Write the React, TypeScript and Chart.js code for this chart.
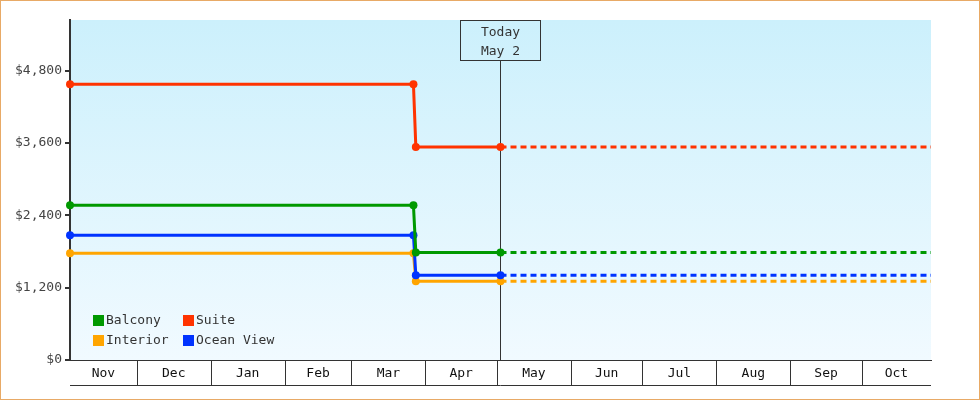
import React, { useEffect, useRef } from 'react';
import { Chart, registerables } from 'chart.js';

Chart.register(...registerables);

// cabin categories, in legend order (two columns)
const categories = ['Balcony', 'Suite', 'Interior', 'Ocean View'];
const categoryColors = ['#009900', '#ff3300', '#ffa500', '#0033ff'];
// drawing order: lower = on top
const categoryOrder = [0, 1, 3, 2];

// price history dates (last one is end of range, no marker)
const priceDates = ['2024-11-03', '2025-03-27', '2025-03-28', '2025-05-02T12:00', '2025-10-30'];
const balconyPrices = [2565, 2565, 1785, 1785, 1785];
const suitePrices = [4575, 4575, 3535, 3535, 3535];
const interiorPrices = [1770, 1770, 1305, 1305, 1305];
const oceanViewPrices = [2070, 2070, 1405, 1405, 1405];
const markerRadii = [4, 4, 4, 4, 0];

const yTicks = [0, 1200, 2400, 3600, 4800];
const yMax = 5640;

const monthLabels = ['Nov', 'Dec', 'Jan', 'Feb', 'Mar', 'Apr', 'May', 'Jun', 'Jul', 'Aug', 'Sep', 'Oct'];
const firstMonth = { year: 2024, month: 10 }; // Nov 2024 (0-based month)
const xStart = '2024-11-03';
const xEnd = '2025-10-30';
const todayDate = '2025-05-02T12:00';
const todayLabel = ['Today', 'May 2'];

const FONT = '"DejaVu Sans Mono", monospace';
const INK = '#333333';
const DAY = 86400000;

const dayOf = (s: string) => Date.parse(s.length === 10 ? s + 'T00:00:00Z' : s + ':00Z') / DAY;

// month boundaries in day units
const monthBounds: number[] = [];
for (let i = 0; i <= monthLabels.length; i++) {
  monthBounds.push(Date.UTC(firstMonth.year, firstMonth.month + i, 1) / DAY);
}

const backgroundPlugin = {
  id: 'plotBackground',
  beforeDraw(chart: any) {
    const { ctx, chartArea } = chart;
    const g = ctx.createLinearGradient(0, chartArea.top, 0, chartArea.bottom);
    g.addColorStop(0, '#ccf0fc');
    g.addColorStop(1, '#f1faff');
    ctx.save();
    ctx.fillStyle = g;
    ctx.fillRect(chartArea.left, chartArea.top, chartArea.right - chartArea.left, chartArea.bottom - chartArea.top);
    ctx.restore();
  },
};

const todayPlugin = {
  id: 'todayMarker',
  beforeDatasetsDraw(chart: any) {
    const { ctx, chartArea, scales } = chart;
    const x = Math.round(scales.x.getPixelForValue(dayOf(todayDate))) - 0.5;
    const boxW = 80;
    const boxH = 40;
    const top = chartArea.top + 0.5;
    ctx.save();
    ctx.strokeStyle = INK;
    ctx.lineWidth = 1;
    ctx.beginPath();
    ctx.moveTo(x, top + boxH);
    ctx.lineTo(x, chartArea.bottom);
    ctx.stroke();
    ctx.strokeRect(x - boxW / 2, top, boxW, boxH);
    ctx.fillStyle = INK;
    ctx.font = '13px ' + FONT;
    ctx.textAlign = 'center';
    ctx.textBaseline = 'middle';
    ctx.fillText(todayLabel[0], x, top + 12);
    ctx.fillText(todayLabel[1], x, top + 31);
    ctx.restore();
  },
};

const monthBandPlugin = {
  id: 'monthBand',
  afterDraw(chart: any) {
    const { ctx, chartArea, scales } = chart;
    const xs = scales.x;
    const y0 = chartArea.bottom;
    const y1 = chartArea.bottom + 25;
    ctx.save();
    ctx.strokeStyle = INK;
    ctx.lineWidth = 1;
    ctx.beginPath();
    monthBounds.forEach((b) => {
      if (b <= xs.min || b >= xs.max) return;
      const px = Math.round(xs.getPixelForValue(b)) + 0.5;
      ctx.moveTo(px, y0);
      ctx.lineTo(px, y1);
    });
    ctx.moveTo(chartArea.left, y1 + 0.5);
    ctx.lineTo(chartArea.right, y1 + 0.5);
    ctx.stroke();
    // outer frame
    ctx.strokeStyle = '#e8aa66';
    ctx.strokeRect(0.5, 0.5, chart.width - 1, chart.height - 1);
    ctx.restore();
  },
};

const legendPlugin = {
  id: 'gridLegend',
  afterDatasetsDraw(chart: any) {
    const { ctx, chartArea } = chart;
    const x0 = chartArea.left + 23;
    const y0 = chartArea.bottom - 45;
    ctx.save();
    ctx.font = '13px ' + FONT;
    ctx.textBaseline = 'middle';
    ctx.textAlign = 'left';
    categories.forEach((name, i) => {
      const ds = chart.data.datasets.find((d: any) => d.label === name);
      const x = x0 + (i % 2) * 90;
      const y = y0 + Math.floor(i / 2) * 20;
      ctx.fillStyle = ds.borderColor;
      ctx.fillRect(x, y, 11, 11);
      ctx.fillStyle = INK;
      ctx.fillText(name, x + 13, y + 6);
    });
    ctx.restore();
  },
};

export default function App() {
  const canvasRef = useRef<HTMLCanvasElement>(null);
  const chartRef = useRef<Chart | null>(null);

  useEffect(() => {
    document.body.style.margin = '0';
    if (!canvasRef.current) return;

    const series = [balconyPrices, suitePrices, interiorPrices, oceanViewPrices];
    const xs = priceDates.map(dayOf);
    const today = dayOf(todayDate);
    const xMin = dayOf(xStart);
    const xMax = dayOf(xEnd);

    const monthMids = monthLabels.map((_, i) => {
      const a = Math.max(monthBounds[i], xMin);
      const b = Math.min(monthBounds[i + 1], xMax);
      return (a + b) / 2;
    });

    const datasets = categories.map((name, i) => ({
      label: name,
      data: series[i].map((v, j) => ({ x: xs[j], y: v })),
      borderColor: categoryColors[i],
      backgroundColor: categoryColors[i],
      pointBackgroundColor: categoryColors[i],
      pointBorderWidth: 0,
      pointRadius: markerRadii,
      pointHoverRadius: markerRadii,
      borderWidth: 3,
      tension: 0,
      clip: false as any,
      order: categoryOrder[i],
      segment: {
        borderDash: (c: any) => (c.p0.parsed.x >= today ? [6, 4] : undefined),
      },
    }));

    Chart.defaults.font.family = FONT;
    Chart.defaults.font.size = 13;
    Chart.defaults.color = INK;

    chartRef.current = new Chart(canvasRef.current, {
      type: 'line',
      data: { datasets },
      options: {
        responsive: false,
        animation: false,
        layout: { padding: { top: 20, right: 49, left: 0, bottom: 0 } },
        plugins: { legend: { display: false }, tooltip: { enabled: false } },
        scales: {
          x: {
            type: 'linear',
            min: xMin,
            max: xMax,
            afterBuildTicks: (scale: any) => {
              scale.ticks = monthMids.map((v) => ({ value: v }));
            },
            afterFit: (scale: any) => {
              scale.height = 40;
            },
            grid: { display: false, drawTicks: false },
            border: { display: true, color: INK, width: 1 },
            ticks: {
              autoSkip: false,
              maxRotation: 0,
              padding: 6,
              color: '#111',
              callback: (_v: any, i: number) => monthLabels[i],
            },
          },
          y: {
            min: 0,
            max: yMax,
            afterBuildTicks: (scale: any) => {
              scale.ticks = yTicks.map((v) => ({ value: v }));
            },
            afterFit: (scale: any) => {
              scale.width = 70;
            },
            grid: { drawOnChartArea: false, tickLength: 5, color: INK, lineWidth: 2 },
            border: { display: true, color: INK, width: 2 },
            ticks: {
              padding: 3,
              color: '#444',
              callback: (v: any) => '$' + Number(v).toLocaleString('en-US'),
            },
          },
        },
      },
      plugins: [backgroundPlugin, todayPlugin, legendPlugin, monthBandPlugin],
    });

    return () => {
      chartRef.current?.destroy();
      chartRef.current = null;
    };
  }, []);

  return (
    <div style={{ width: 980, height: 400, background: '#fff' }}>
      <canvas ref={canvasRef} width={980} height={400} />
    </div>
  );
}
